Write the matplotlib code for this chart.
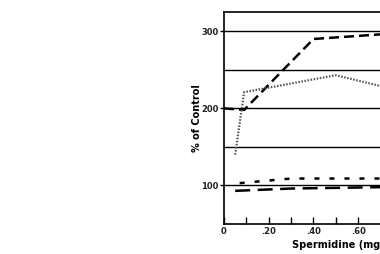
import matplotlib
matplotlib.use("Agg")
import matplotlib.pyplot as plt

# spermidine concentration (mg/ml) and % of control for each series
dash_x = [0.0, 0.09, 0.40, 0.75, 1.0]
dash_y = [200, 198, 290, 297, 298]

dot_x = [0.05, 0.09, 0.50, 0.70, 1.0]
dot_y = [140, 221, 243, 229, 225]

short_x = [0.07, 0.30, 0.75, 1.0]
short_y = [103, 109, 109, 109]

long_x = [0.05, 0.30, 0.75, 1.0]
long_y = [93, 96, 98, 98]

grid_y = [100, 150, 200, 250, 300]
xticks = [0.0, 0.2, 0.4, 0.6, 0.8, 1.0]
xticklabels = ["0", ".20", ".40", ".60", ".80", "1.0"]
yticks = [100, 200, 300]

fig = plt.figure(figsize=(3.8, 2.54), dpi=100)
ax = fig.add_axes([224 / 380, 30 / 254, 246 / 380, 212 / 254])

for g in grid_y:
    ax.axhline(g, color="black", lw=1.0, zorder=1)

ax.plot(dash_x, dash_y, color="black", lw=1.8, ls=(0, (4, 2)), zorder=3)
ax.plot(dot_x, dot_y, color="#555555", lw=1.6, ls=(0, (0.7, 0.7)), zorder=3)
ax.plot(short_x, short_y, color="black", lw=1.8, ls=(0, (2, 4)), zorder=3)
ax.plot(long_x, long_y, color="black", lw=1.8, ls=(0, (6, 3)), zorder=3)

ax.set_xlim(0, 1.1)
ax.set_ylim(50, 325)
ax.set_xticks(xticks)
ax.set_xticklabels(xticklabels)
ax.set_xticks([0.1, 0.3, 0.5, 0.7, 0.9], minor=True)
ax.set_yticks(yticks)
ax.tick_params(axis="x", which="both", direction="in", length=5, width=1, pad=2,
               labelsize=6)
ax.tick_params(axis="y", direction="out", length=3, width=1, pad=1, labelsize=6)
for lab in ax.get_xticklabels() + ax.get_yticklabels():
    lab.set_fontweight("bold")
    lab.set_color("#222222")

for s in ax.spines.values():
    s.set_linewidth(1.2)

ax.set_xlabel("Spermidine (mg/ml)", fontsize=7, fontweight="bold", labelpad=3)
ax.set_ylabel("% of Control", fontsize=7, fontweight="bold", labelpad=-1)

fig.savefig("out.png", dpi=100)
